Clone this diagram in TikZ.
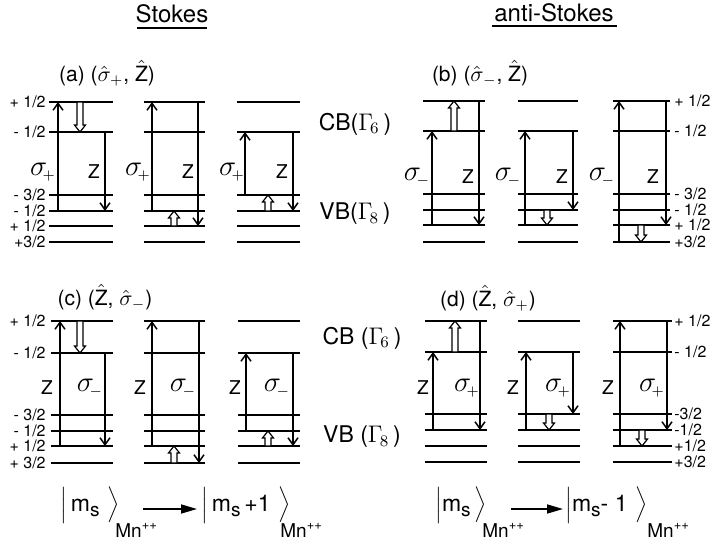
\documentclass[tikz,border=0pt]{standalone}
\usepackage{fontspec}
\setmainfont{TeX Gyre Heros}
\usetikzlibrary{arrows.meta}
\newcommand{\tarrow}[3]{\draw[tarr] (#1,#2) -- (#1,#3);}
\newcommand{\harrow}[3]{%
  \pgfmathsetmacro{\hyb}{#3-7*sign(#3-#2)}%
  \draw[hol] ({#1-3},#2) -- ({#1+3},#2) -- ({#1+3},\hyb) -- ({#1+5.5},\hyb) -- (#1,#3) -- ({#1-5.5},\hyb) -- ({#1-3},\hyb) -- cycle;}
\newcommand{\levset}[3]{\foreach \yy in {#3} {\draw[lev] (#1,\yy) -- (#2,\yy);}}
\newcommand{\sgp}{$\sigma_{\!\scriptscriptstyle +}$}
\newcommand{\sgm}{$\sigma_{\!\scriptscriptstyle -}$}
\newcommand{\msub}{m{\fontsize{9.5}{10}\selectfont\raisebox{-2.6pt}{s}}}
\newcommand{\mnpp}{Mn\raisebox{4pt}{\fontsize{6.5}{7}\selectfont ++}}
\begin{document}
\begin{tikzpicture}[x=0.5pt,y=-0.5pt,
  lev/.style={line width=1pt},
  tarr/.style={line width=0.75pt,-{Straight Barb[length=3.5pt,width=5pt]}},
  hol/.style={line width=0.6pt,fill=white,line join=miter},
  lab/.style={font=\fontsize{8}{9}\selectfont,inner sep=0pt},
  ttl/.style={font=\fontsize{10.5}{12}\selectfont,inner sep=0pt},
  sig/.style={font=\fontsize{14}{16}\selectfont,inner sep=0pt},
  zl/.style={font=\fontsize{9.5}{11}\selectfont,inner sep=0pt},
  band/.style={font=\fontsize{11.5}{13}\selectfont,inner sep=0pt},
  head/.style={font=\fontsize{12}{14}\selectfont,inner sep=0pt},
  fml/.style={font=\fontsize{11.5}{13}\selectfont,inner sep=0pt},
  mnl/.style={font=\fontsize{9.5}{10}\selectfont,inner sep=0pt},
  ul/.style={line width=0.8pt}]
\fill[white] (0,0) rectangle (728,541);
\useasboundingbox (0,0) rectangle (728,541);

% headings
\node[head] (st) at (172,14) {Stokes};
\draw[ul] (137,28) -- (207,28);
\node[head] (ast) at (554,13) {anti-Stokes};
\draw[ul] (492,26) -- (617,26);

% ---------------- panel (a)
\node[ttl] (ta) at (107,73) {(a) ($\hat\sigma_+$, $\hat{\mathrm{Z}}$)};
\levset{49}{113}{102,132,195,211,226,242}
\levset{144}{205}{102,132,195,211,226,242}
\levset{237}{300}{102,132,195,211,226,242}
\tarrow{58}{211}{102} \harrow{80}{102}{132} \tarrow{105}{132}{211}
\tarrow{152}{211}{102} \tarrow{198}{102}{226} \harrow{174}{226}{211}
\tarrow{245}{195}{132} \tarrow{293}{132}{211} \harrow{268}{211}{195}
\node[sig] at (43,172) {\sgp};
\node[zl] at (94,172) {Z};
\node[sig] at (138,172) {\sgp};
\node[zl] at (188,172) {Z};
\node[sig] at (232,172) {\sgp};
\node[zl] at (282,172) {Z};
\node[lab,anchor=east] at (46,102) {+ 1/2};
\node[lab,anchor=east] at (46,132) {- 1/2};
\node[lab,anchor=east] at (46,195) {- 3/2};
\node[lab,anchor=east] at (46,211) {- 1/2};
\node[lab,anchor=east] at (46,226) {+ 1/2};
\node[lab,anchor=east] at (46,242) {+3/2};

% ---------------- panel (b)
\node[ttl] (tb) at (480,73) {(b) ($\hat\sigma_-$, $\hat{\mathrm{Z}}$)};
\levset{423}{485}{101,131,194,210,225,242}
\levset{518}{578}{101,131,194,210,225,242}
\levset{613}{670}{101,131,194,210,225,242}
\tarrow{432}{225}{131} \harrow{454}{131}{101} \tarrow{479}{101}{225}
\tarrow{525}{225}{131} \tarrow{573}{131}{210} \harrow{547}{210}{225}
\tarrow{619}{242}{101} \tarrow{666}{101}{225} \harrow{641}{225}{242}
\node[sig] at (417,177) {\sgm};
\node[zl] at (468,177) {Z};
\node[sig] at (508,177) {\sgm};
\node[zl] at (562,177) {Z};
\node[sig] at (602,177) {\sgm};
\node[zl] at (653,177) {Z};
\node[lab,anchor=west] at (674,101) {+ 1/2};
\node[lab,anchor=west] at (674,131) {- 1/2};
\node[lab,anchor=west] at (674,194) {- 3/2};
\node[lab,anchor=west] at (674,210) {- 1/2};
\node[lab,anchor=west] at (674,225) {+ 1/2};
\node[lab,anchor=west] at (674,242) {+3/2};
\node[band] at (355,124) {CB($\Gamma_{\!6}$\,)};
\node[band] at (355,214) {VB($\Gamma_{\!8}$\,)};

% ---------------- panel (c)
\node[ttl] (tc) at (105,297) {(c) ($\hat{\mathrm{Z}}$, $\hat\sigma_-$)};
\levset{51}{113}{321,353,415,431,446,463}
\levset{144}{205}{321,353,415,431,446,463}
\levset{238}{300}{321,353,415,431,446,463}
\tarrow{60}{446}{321} \harrow{80}{321}{353} \tarrow{105}{353}{446}
\tarrow{152}{446}{321} \tarrow{199}{321}{463} \harrow{174}{463}{446}
\tarrow{246}{431}{353} \tarrow{293}{353}{446} \harrow{268}{446}{431}
\node[zl] at (47,388) {Z};
\node[sig] at (90,388) {\sgm};
\node[zl] at (140,388) {Z};
\node[sig] at (183,388) {\sgm};
\node[zl] at (235,388) {Z};
\node[sig] at (277,388) {\sgm};
\node[lab,anchor=east] at (46,321) {+ 1/2};
\node[lab,anchor=east] at (46,353) {- 1/2};
\node[lab,anchor=east] at (46,415) {- 3/2};
\node[lab,anchor=east] at (46,431) {- 1/2};
\node[lab,anchor=east] at (46,446) {+ 1/2};
\node[lab,anchor=east] at (46,463) {+ 3/2};

% ---------------- panel (d)
\node[ttl] (td) at (488,298) {(d) ($\hat{\mathrm{Z}}$, $\hat\sigma_+$)};
\levset{425}{487}{321,352,414,430,446,462}
\levset{518}{580}{321,352,414,430,446,462}
\levset{613}{672}{321,352,414,430,446,462}
\tarrow{433}{430}{352} \harrow{455}{352}{321} \tarrow{480}{321}{430}
\tarrow{526}{430}{352} \tarrow{573}{352}{414} \harrow{549}{414}{430}
\tarrow{620}{446}{321} \tarrow{667}{321}{430} \harrow{642}{430}{446}
\node[zl] at (423,388) {Z};
\node[sig] at (467,388) {\sgp};
\node[zl] at (513,388) {Z};
\node[sig] at (558,388) {\sgp};
\node[zl] at (608,388) {Z};
\node[sig] at (652,388) {\sgp};
\node[lab,anchor=west] at (674,321) {+ 1/2};
\node[lab,anchor=west] at (674,352) {- 1/2};
\node[lab,anchor=west] at (674,414) {-3/2};
\node[lab,anchor=west] at (674,430) {-1/2};
\node[lab,anchor=west] at (674,446) {+1/2};
\node[lab,anchor=west] at (674,462) {+3/2};
\node[band] at (362,338) {CB ($\Gamma_{\!6}$\,)};
\node[band] at (362,437) {VB ($\Gamma_{\!8}$\,)};

% ---------------- bottom formulas
\node[fml,anchor=base west] (k1) at (60,511) {$\Bigl|$\,\msub\,\,$\Bigr\rangle$};
\node[mnl,anchor=base west] (m1) at (115,537) {\mnpp};
\coordinate (a1s) at (143,509);
\coordinate (a1e) at (197,509);
\draw[line width=0.8pt,-{Triangle[length=8pt,width=4.5pt]}] (a1s) -- (a1e);
\node[fml,anchor=base west] (k2) at (201,511) {$\Bigl|$\,\msub\,+1\,\,$\Bigr\rangle$};
\node[mnl,anchor=base west] (m2) at (280,537) {\mnpp};

\node[fml,anchor=base west] (k3) at (435,511) {$\Bigl|$\msub\,$\Bigr\rangle$};
\node[mnl,anchor=base west] (m3) at (482,537) {\mnpp};
\coordinate (a2s) at (511,509);
\coordinate (a2e) at (563,509);
\draw[line width=0.8pt,-{Triangle[length=8pt,width=4.5pt]}] (a2s) -- (a2e);
\node[fml,anchor=base west] (k4) at (565,511) {$\Bigl|$\msub- 1\,\,$\Bigr\rangle$};
\node[mnl,anchor=base west] (m4) at (647,537) {\mnpp};
\end{tikzpicture}
\end{document}
